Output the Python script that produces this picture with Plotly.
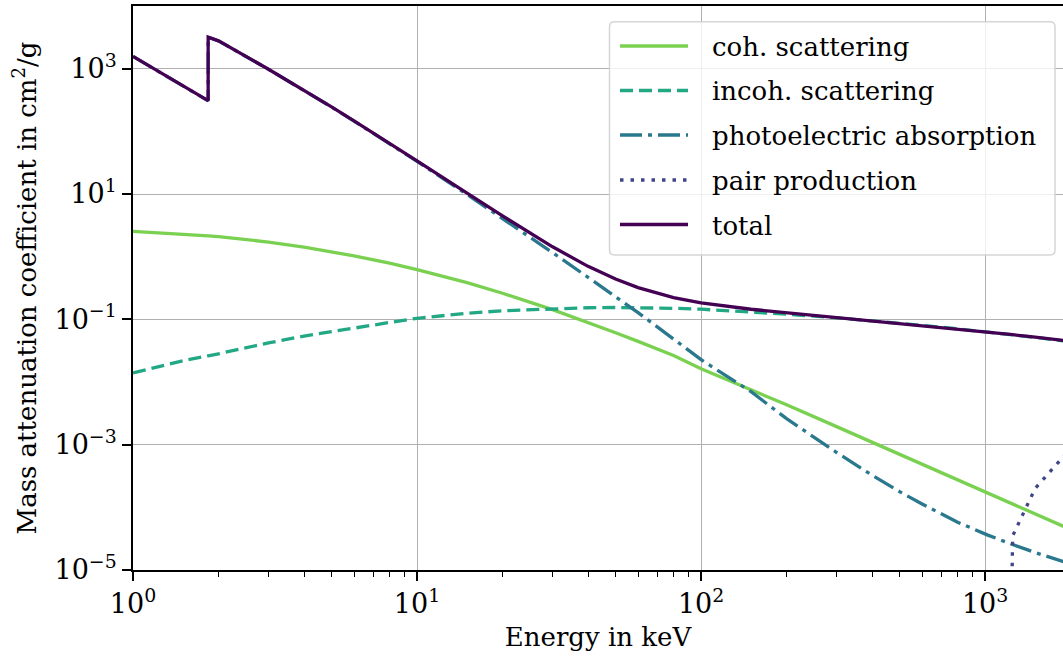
import numpy as np
import plotly.graph_objects as go

# Photon energies in keV (the K edge at 1.8389 keV appears twice: below / above)
energy_kev = [1, 1.5, 1.8389, 1.8389, 2, 3, 4, 5, 6, 8, 10, 15, 20, 30, 40, 50, 60,
              80, 100, 150, 200, 300, 400, 500, 600, 800, 1000, 1022, 1250, 1500, 2000]

# Mass attenuation coefficients in cm^2/g
coherent = [2.54, 2.31, 2.15, 2.15, 2.09, 1.71, 1.42, 1.20, 1.03, 0.787, 0.622, 0.385,
            0.261, 0.143, 0.0893, 0.0611, 0.0445, 0.0264, 0.0163, 0.0076, 0.00432,
            0.00194, 0.00109, 0.00070, 0.000488, 0.000275, 0.000176, 0.000169,
            0.000113, 0.0000785, 0.0000443]
incoherent = [0.0140, 0.0218, 0.0262, 0.0262, 0.0282, 0.0420, 0.0540, 0.0635, 0.0730,
              0.0890, 0.1040, 0.1250, 0.1370, 0.1480, 0.1530, 0.1545, 0.1540, 0.1500,
              0.1450, 0.1306, 0.1208, 0.1057, 0.0948, 0.0867, 0.0802, 0.0705, 0.0634,
              0.0628, 0.0567, 0.0516, 0.0439]
photoelectric = [1567, 533, 306.8, 3190, 2775, 976.7, 451.5, 243.8, 146.0, 63.8, 33.1,
                 9.83, 4.08, 1.16, 0.468, 0.230, 0.128, 0.0485, 0.0227, 0.0070, 0.0026,
                 0.00075, 0.000326, 0.000178, 0.000113, 0.000058, 0.000037, 0.000036,
                 0.0000255, 0.0000190, 0.0000125]
pair = [0, 0, 0, 0, 0, 0, 0, 0, 0, 0, 0, 0, 0, 0, 0, 0, 0, 0, 0, 0, 0, 0, 0, 0, 0, 0,
        0, 0, 0.000035, 0.00020, 0.00087]
total = [1570, 535.5, 309.2, 3192, 2777, 978.4, 452.9, 245.0, 147.0, 64.68, 33.89,
         10.34, 4.464, 1.436, 0.7012, 0.4385, 0.3207, 0.2228, 0.1835, 0.1448, 0.1275,
         0.1082, 0.09614, 0.08748, 0.08077, 0.07082, 0.06361, 0.0630, 0.05688,
         0.05183, 0.04480]

x_tick_vals = [1, 10, 100, 1000]
x_tick_text = ["10<sup>0</sup>", "10<sup>1</sup>", "10<sup>2</sup>", "10<sup>3</sup>"]
y_tick_vals = [1e-5, 1e-3, 1e-1, 1e1, 1e3]
y_tick_text = ["10<sup>\u22125</sup>", "10<sup>\u22123</sup>", "10<sup>\u22121</sup>",
               "10<sup>1</sup>", "10<sup>3</sup>"]

FONT = "DejaVu Serif"
FS = 26
LW = 3.3

series = [
    ("coh. scattering", coherent, "#7ad151", "solid"),
    ("incoh. scattering", incoherent, "#22a884", "13px,6px"),
    ("photoelectric absorption", photoelectric, "#2a788e", "22px,6px,4px,6px"),
    ("pair production", pair, "#414487", "3.5px,7px"),
    ("total", total, "#440154", "solid"),
]

fig = go.Figure()
for name, vals, color, dash in series:
    y = np.asarray(vals, dtype=float)
    # zero values cannot live on a log axis: clip them far below the visible range
    y = np.where(y > 0, y, 1e-30)
    fig.add_trace(go.Scatter(x=energy_kev, y=y, mode="lines", name=name,
                             line=dict(color=color, width=LW, dash=dash),
                             showlegend=False))

# plot-area geometry (pixels) used to place the legend box
L, R, T, B = 133, 1063, 6, 570
W, H = R - L, B - T


def px(xp):
    return (xp - L) / W


def py(yp):
    return (B - yp) / H


# rounded legend frame
bx0, bx1, by0, by1, rad = 609.5, 1055, 21.7, 255, 5
rx, ry = rad / W, rad / H
x0, x1, y0, y1 = px(bx0), px(bx1), py(by1), py(by0)
path = (f"M {x0+rx},{y0} L {x1-rx},{y0} Q {x1},{y0} {x1},{y0+ry} "
        f"L {x1},{y1-ry} Q {x1},{y1} {x1-rx},{y1} L {x0+rx},{y1} "
        f"Q {x0},{y1} {x0},{y1-ry} L {x0},{y0+ry} Q {x0},{y0} {x0+rx},{y0} Z")
shapes = [dict(type="path", path=path, xref="paper", yref="paper", layer="above",
               fillcolor="rgba(255,255,255,0.8)",
               line=dict(color="rgba(204,204,204,0.8)", width=1.5))]
annotations = []
row_y = [46, 90.5, 135, 180, 224.5]
for (name, _, color, dash), yr in zip(series, row_y):
    shapes.append(dict(type="line", xref="paper", yref="paper", layer="above",
                       x0=px(620), x1=px(688), y0=py(yr), y1=py(yr),
                       line=dict(color=color, width=LW, dash=dash)))
    annotations.append(dict(text=name, xref="paper", yref="paper", x=px(710),
                            y=py(yr + 1), xanchor="left", yanchor="middle",
                            showarrow=False, font=dict(family=FONT, size=FS, color="black")))

axis_common = dict(
    type="log", showgrid=True, gridcolor="#b0b0b0", gridwidth=1.3,
    showline=True, linecolor="black", linewidth=1.8, ticks="outside",
    ticklen=9, tickwidth=1.8, tickcolor="black", zeroline=False,
    tickfont=dict(family=FONT, size=FS + 1, color="black"),
)

minor_x = [m * 10 ** k for k in range(0, 4) for m in range(2, 10)]

fig.update_layout(
    width=1063, height=658, autosize=False,
    margin=dict(l=L, r=1063 - R, t=T, b=658 - B),
    paper_bgcolor="white", plot_bgcolor="white",
    font=dict(family=FONT, color="black"),
    xaxis=dict(axis_common, range=[0, np.log10(1880)], mirror=True,
               tickmode="array", tickvals=x_tick_vals, ticktext=x_tick_text,
               minor=dict(tickmode="array", tickvals=minor_x, ticks="outside",
                          ticklen=5, tickwidth=1.3, tickcolor="black", showgrid=False),
               title=dict(text="Energy in keV", font=dict(family=FONT, size=FS),
                          standoff=10)),
    yaxis=dict(axis_common, range=[-5, 4], tickmode="array", tickvals=y_tick_vals,
               ticktext=y_tick_text,
               title=dict(text="Mass attenuation coefficient in cm<sup>2</sup>/g",
                          font=dict(family=FONT, size=FS), standoff=10)),
    shapes=shapes, annotations=annotations,
)

fig.write_html("out.html")
